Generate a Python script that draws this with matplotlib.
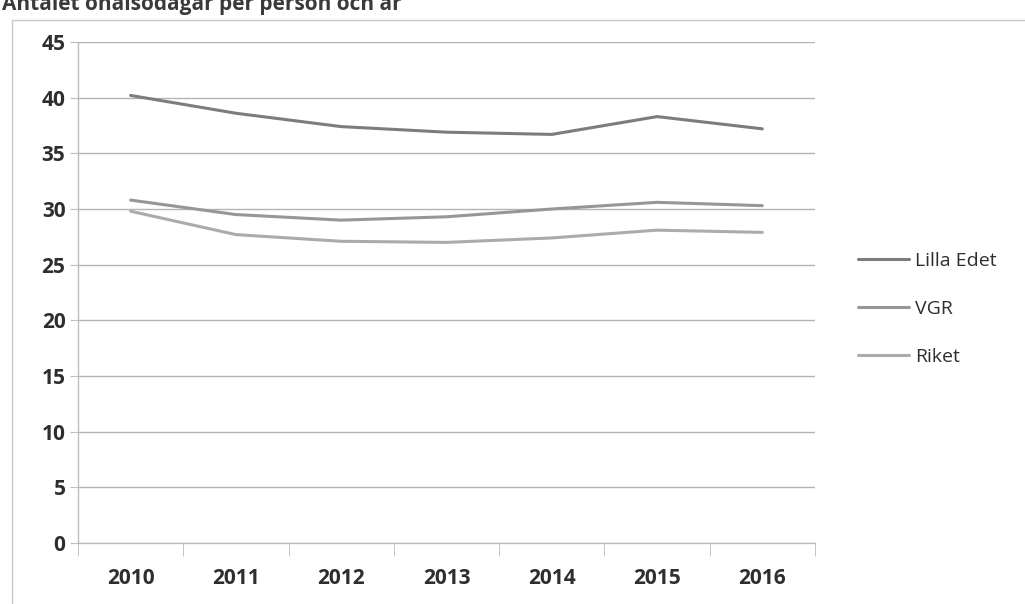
import matplotlib
matplotlib.use("Agg")
import matplotlib.pyplot as plt
from matplotlib.patches import Rectangle

# sick days per person and year
years = ["2010", "2011", "2012", "2013", "2014", "2015", "2016"]
lilla_edet = [40.2, 38.6, 37.4, 36.9, 36.7, 38.3, 37.2]
vgr = [30.8, 29.5, 29.0, 29.3, 30.0, 30.6, 30.3]
riket = [29.8, 27.7, 27.1, 27.0, 27.4, 28.1, 27.9]
series_names = ["Lilla Edet", "VGR", "Riket"]
yticks = [0, 5, 10, 15, 20, 25, 30, 35, 40, 45]

FONT = ["Open Sans", "DejaVu Sans"]
INK = "#2e2e2e"
GRID = "#b4b4b4"

W, H = 1025, 604
fig = plt.figure(figsize=(W / 100, H / 100), dpi=100)
fig.patch.set_facecolor("white")

# frame of the chart object
fig.add_artist(Rectangle((12 / W, -0.05), 1.2, 1 - 20 / H + 0.05,
                         transform=fig.transFigure, fc="none",
                         ec="#c8c8c8", lw=1.0))

ax = fig.add_axes([78 / W, 1 - 543 / H, (815 - 78) / W, (543 - 42) / H])
x = range(len(years))

colors = ["#7c7c7c", "#969696", "#ababab"]
for vals, name, c in zip([lilla_edet, vgr, riket], series_names, colors):
    ax.plot(x, vals, color=c, lw=2.2, label=name, solid_capstyle="round")

ax.set_xlim(-0.5, len(years) - 0.5)
ax.set_ylim(0, 45)
ax.set_yticks(yticks)
ax.set_yticklabels([str(v) for v in yticks], fontsize=15, fontweight="bold",
                   color=INK, family=FONT)
ax.set_xticks(list(x))
ax.set_xticklabels(years, fontsize=15, fontweight="bold", color=INK, family=FONT)
ax.set_xticks([i - 0.5 for i in range(len(years) + 1)], minor=True)

ax.grid(axis="y", color=GRID, lw=1.0)
ax.set_axisbelow(True)
for s in ["top", "right"]:
    ax.spines[s].set_visible(False)
for s in ["left", "bottom"]:
    ax.spines[s].set_color("#bdbdbd")
    ax.spines[s].set_linewidth(1.0)

ax.tick_params(axis="y", length=6, color="#bdbdbd", pad=3)
ax.tick_params(axis="x", which="major", length=0, pad=18)
ax.tick_params(axis="x", which="minor", length=9, color="#bdbdbd")

leg = ax.legend(loc="center left", bbox_to_anchor=(1.035, 0.467), frameon=False,
                handlelength=2.6, handletextpad=0.3, labelspacing=1.55,
                prop={"family": FONT, "size": 14})
for t in leg.get_texts():
    t.set_color(INK)

# title, partly cut by the top edge
fig.text(2 / W, 1 - 10 / H, "Antalet ohälsodagar per person och år",
         fontsize=15, fontweight="bold", color="#3a3a3a", family=FONT,
         va="baseline", ha="left")

fig.savefig("out.png", dpi=100, facecolor="white")
